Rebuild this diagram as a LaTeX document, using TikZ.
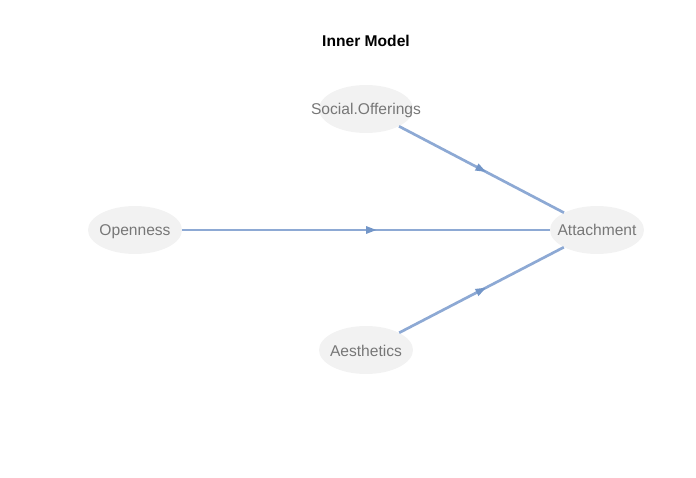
\documentclass[tikz,border=0pt]{standalone}
\usepackage{fontspec}
\setmainfont{Liberation Sans}
\usetikzlibrary{shapes.geometric,decorations.markings,arrows.meta}
\definecolor{edgeblue}{HTML}{8DA9D4}
\definecolor{tipblue}{HTML}{7396C8}
\definecolor{nodefill}{HTML}{F2F2F2}
\definecolor{nodetext}{HTML}{777777}
\newcommand{\lvtext}[1]{\makebox[0pt]{#1}}
\begin{document}
\begin{tikzpicture}[x=1pt,y=-1pt,
  lv/.style={ellipse,fill=nodefill,draw=none,minimum width=94pt,minimum height=48pt,inner sep=0pt,
    text height=15pt,text depth=3pt,
    text=nodetext,font=\fontsize{15.6}{18}\selectfont},
  path/.style={draw=edgeblue,line width=2.7pt,
    postaction={decorate},
    decoration={markings,mark=at position 0.53 with {\arrow[tipblue]{Triangle[length=11pt,width=7pt]}}}}
]
\useasboundingbox (0,0) rectangle (696,478);
\node[font=\bfseries\fontsize{15.6}{18}\selectfont] (title) at (366,41) {Inner Model};
\node[lv] (soc) at (366,109) {\lvtext{Social.Offerings}};
\node[lv] (open) at (135,230) {\lvtext{Openness}};
\node[lv] (att) at (597,230) {\lvtext{Attachment}};
\node[lv] (aes) at (366,350) {\lvtext{Aesthetics}};
\draw[path] (soc) -- (att);
\draw[path] (open) -- (att);
\draw[path] (aes) -- (att);
\end{tikzpicture}
\end{document}
